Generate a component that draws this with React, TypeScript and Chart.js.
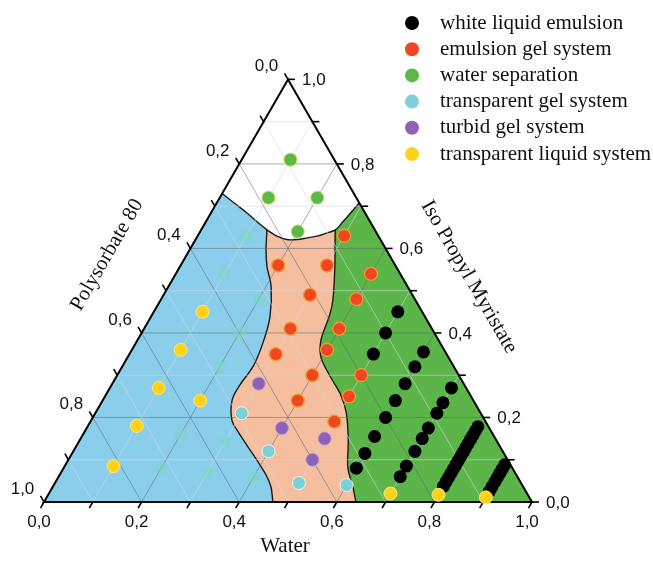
import React, { useEffect, useRef } from "react";
import { Chart, registerables } from "chart.js";

Chart.register(...registerables);

// Compositions are [water, isopropyl myristate]; polysorbate 80 is the remainder.
const seriesLabels = [
  "white liquid emulsion",
  "emulsion gel system",
  "water separation",
  "transparent gel system",
  "turbid gel system",
  "transparent liquid system",
];
const seriesColors = ["#000000", "#EE4723", "#5DB84A", "#7ED0D6", "#8E60B6", "#FFD21A"];

const whiteLiquidEmulsion: number[][] = [
  [0.5, 0.45], [0.5, 0.4], [0.5, 0.35],
  [0.6, 0.355], [0.6, 0.32], [0.6, 0.28], [0.6, 0.24], [0.6, 0.2], [0.6, 0.155], [0.6, 0.115], [0.6, 0.08],
  [0.7, 0.27], [0.7, 0.235], [0.7, 0.21], [0.7, 0.175], [0.7, 0.15], [0.7, 0.12], [0.7, 0.085], [0.7, 0.06],
  [0.8, 0.178], [0.8, 0.168], [0.8, 0.158], [0.8, 0.148], [0.8, 0.138], [0.8, 0.128], [0.8, 0.118], [0.8, 0.108],
  [0.8, 0.098], [0.8, 0.088], [0.8, 0.078], [0.8, 0.068], [0.8, 0.058], [0.8, 0.048], [0.8, 0.037],
  [0.9, 0.088], [0.9, 0.078], [0.9, 0.068], [0.9, 0.058], [0.9, 0.048], [0.9, 0.036], [0.9, 0.025],
];
const emulsionGel: number[][] = [
  [0.3, 0.63], [0.2, 0.56], [0.3, 0.56], [0.4, 0.54], [0.3, 0.49], [0.4, 0.48], [0.3, 0.41], [0.4, 0.41],
  [0.3, 0.35], [0.4, 0.36], [0.4, 0.3], [0.5, 0.3], [0.4, 0.24], [0.5, 0.25], [0.5, 0.19],
];
const waterSeparation: number[][] = [[0.1, 0.81], [0.1, 0.72], [0.2, 0.72], [0.2, 0.64]];
const transparentGel: number[][] = [[0.3, 0.21], [0.4, 0.12], [0.5, 0.045], [0.6, 0.04]];
// transparent gel points lying inside the transparent-liquid field (drawn faded)
const transparentGelFaded: number[][] = [
  [0.1, 0.63], [0.1, 0.54], [0.2, 0.48], [0.2, 0.4], [0.2, 0.32],
  [0.3, 0.14], [0.2, 0.16], [0.2, 0.08], [0.3, 0.07], [0.4, 0.06],
];
const turbidGel: number[][] = [[0.3, 0.28], [0.4, 0.175], [0.5, 0.15], [0.5, 0.1]];
const transparentLiquid: number[][] = [
  [0.1, 0.45], [0.1, 0.36], [0.1, 0.27], [0.2, 0.24], [0.1, 0.18], [0.1, 0.085],
  [0.7, 0.02], [0.8, 0.017], [0.9, 0.011],
];

// Phase boundaries, [water, IPM]
const capBoundary: number[][] = [
  [0, 0.73], [0.04, 0.705], [0.074, 0.684], [0.105, 0.663], [0.135, 0.644], [0.163, 0.629],
  [0.187, 0.621], [0.208, 0.621], [0.227, 0.625], [0.245, 0.629], [0.262, 0.637], [0.275, 0.644],
  [0.281, 0.663], [0.286, 0.682], [0.292, 0.708],
];
const liquidGelBoundary: number[][] = [
  [0.124, 0.67], [0.135, 0.644], [0.157, 0.596], [0.179, 0.556], [0.211, 0.509], [0.244, 0.438],
  [0.259, 0.383], [0.268, 0.324], [0.263, 0.277], [0.265, 0.241], [0.288, 0.194], [0.315, 0.166],
  [0.35, 0.133], [0.391, 0.095], [0.423, 0.064], [0.447, 0.036], [0.469, 0],
];
const gelEmulsionBoundary: number[][] = [
  [0.268, 0.67], [0.275, 0.644], [0.318, 0.556], [0.353, 0.478], [0.365, 0.438], [0.376, 0.383],
  [0.396, 0.343], [0.434, 0.301], [0.479, 0.256], [0.514, 0.211], [0.55, 0.147], [0.581, 0.083],
  [0.615, 0.036], [0.639, 0],
];

const tickValues = [0, 0.1, 0.2, 0.3, 0.4, 0.5, 0.6, 0.7, 0.8, 0.9, 1];
const tickLabels = ["0,0", "", "0,2", "", "0,4", "", "0,6", "", "0,8", "", "1,0"];

const SQ = Math.sqrt(3) / 2;
const toXY = (c: number[]) => ({ x: c[0] + c[1] / 2, y: c[1] * SQ });

const SERIF = "'Liberation Serif', 'Times New Roman', serif";
const SANS = "'Liberation Sans', Arial, sans-serif";

function smoothPath(ctx: CanvasRenderingContext2D, pts: number[][], move: boolean) {
  if (move) ctx.moveTo(pts[0][0], pts[0][1]);
  else ctx.lineTo(pts[0][0], pts[0][1]);
  for (let i = 0; i < pts.length - 1; i++) {
    const p0 = pts[i - 1] || pts[i];
    const p1 = pts[i];
    const p2 = pts[i + 1];
    const p3 = pts[i + 2] || p2;
    ctx.bezierCurveTo(
      p1[0] + (p2[0] - p0[0]) / 6, p1[1] + (p2[1] - p0[1]) / 6,
      p2[0] - (p3[0] - p1[0]) / 6, p2[1] - (p3[1] - p1[1]) / 6,
      p2[0], p2[1]
    );
  }
}

const ternaryPlugin = {
  id: "ternaryFrame",
  beforeDatasetsDraw(chart: any) {
    const { ctx } = chart;
    const xs = chart.scales.x;
    const ys = chart.scales.y;
    const P = (w: number, m: number) => [xs.getPixelForValue(w + m / 2), ys.getPixelForValue(m * SQ)];
    const conv = (arr: number[][]) => arr.map((c) => P(c[0], c[1]));
    const BL = P(0, 0);
    const BR = P(1, 0);
    const TOP = P(0, 1);

    ctx.save();
    // emulsion field: whole triangle
    ctx.beginPath();
    ctx.moveTo(BL[0], BL[1]);
    ctx.lineTo(BR[0], BR[1]);
    ctx.lineTo(TOP[0], TOP[1]);
    ctx.closePath();
    ctx.fillStyle = "#5BB548";
    ctx.fill();

    // gel field
    const ge = conv(gelEmulsionBoundary);
    ctx.beginPath();
    ctx.moveTo(BL[0], BL[1]);
    smoothPath(ctx, ge.slice().reverse(), false);
    ctx.lineTo(TOP[0], TOP[1]);
    ctx.closePath();
    ctx.fillStyle = "#F4BE9F";
    ctx.fill();

    // liquid field
    const lg = conv(liquidGelBoundary);
    ctx.beginPath();
    ctx.moveTo(BL[0], BL[1]);
    smoothPath(ctx, lg.slice().reverse(), false);
    ctx.lineTo(TOP[0], TOP[1]);
    ctx.closePath();
    ctx.fillStyle = "#8BCEEC";
    ctx.fill();

    ctx.strokeStyle = "#1a1a1a";
    ctx.lineWidth = 1.4;
    ctx.beginPath();
    smoothPath(ctx, lg, true);
    ctx.stroke();
    ctx.beginPath();
    smoothPath(ctx, ge, true);
    ctx.stroke();

    // separation cap
    const cap = conv(capBoundary);
    ctx.beginPath();
    smoothPath(ctx, cap, true);
    ctx.lineTo(TOP[0], TOP[1]);
    ctx.closePath();
    ctx.fillStyle = "#ffffff";
    ctx.fill();
    ctx.beginPath();
    smoothPath(ctx, cap, true);
    ctx.stroke();

    // grid
    for (let i = 1; i < tickValues.length - 1; i++) {
      const v = tickValues[i];
      const major = i % 2 === 0;
      ctx.strokeStyle = major ? "rgba(95,105,115,0.55)" : "rgba(205,215,225,0.6)";
      ctx.lineWidth = 1;
      const segs = [
        [P(0, v), P(1 - v, v)],
        [P(v, 0), P(v, 1 - v)],
        [P(1 - v, 0), P(0, 1 - v)],
      ];
      for (const [a, b] of segs) {
        ctx.beginPath();
        ctx.moveTo(a[0], a[1]);
        ctx.lineTo(b[0], b[1]);
        ctx.stroke();
      }
    }

    // frame
    ctx.strokeStyle = "#000";
    ctx.lineWidth = 2;
    ctx.lineJoin = "miter";
    ctx.beginPath();
    ctx.moveTo(BL[0], BL[1]);
    ctx.lineTo(BR[0], BR[1]);
    ctx.lineTo(TOP[0], TOP[1]);
    ctx.closePath();
    ctx.stroke();

    // ticks and labels
    const T = 7;
    ctx.lineWidth = 1.6;
    ctx.fillStyle = "#111";
    ctx.font = "17px " + SANS;
    ctx.textBaseline = "middle";
    tickValues.forEach((v, i) => {
      // water (bottom)
      const b = P(v, 0);
      ctx.beginPath();
      ctx.moveTo(b[0], b[1]);
      ctx.lineTo(b[0] - 0.5 * T, b[1] + SQ * T);
      ctx.stroke();
      // polysorbate (left)
      const l = P(0, 1 - v);
      ctx.beginPath();
      ctx.moveTo(l[0], l[1]);
      ctx.lineTo(l[0] - 0.5 * T, l[1] - SQ * T);
      ctx.stroke();
      // isopropyl myristate (right)
      const r = P(1 - v, v);
      ctx.beginPath();
      ctx.moveTo(r[0], r[1]);
      ctx.lineTo(r[0] + T, r[1]);
      ctx.stroke();
      const lab = tickLabels[i];
      if (lab) {
        ctx.textAlign = "center";
        ctx.fillText(lab, b[0] - 5, b[1] + 20);
        ctx.fillText(lab, l[0] - 21.5, l[1] - 13);
        ctx.textAlign = "left";
        ctx.fillText(lab, r[0] + 14, r[1] + 1);
      }
    });

    // axis titles
    ctx.font = "21px " + SERIF;
    ctx.textAlign = "center";
    ctx.textBaseline = "middle";
    ctx.fillStyle = "#111";
    ctx.fillText("Water", 285, 546);
    ctx.save();
    ctx.translate(107, 255);
    ctx.rotate(-Math.PI / 3);
    ctx.fillText("Polysorbate 80", 0, 0);
    ctx.restore();
    ctx.save();
    ctx.translate(469, 277);
    ctx.rotate(Math.PI / 3);
    ctx.fillText("Iso Propyl Myristate", 0, 0);
    ctx.restore();

    // legend
    ctx.textAlign = "left";
    seriesLabels.forEach((label, i) => {
      const yy = 23 + i * 26.2;
      ctx.beginPath();
      ctx.arc(412, yy, 7, 0, Math.PI * 2);
      ctx.fillStyle = seriesColors[i];
      ctx.fill();
      ctx.fillStyle = "#111";
      ctx.fillText(label, 440, yy);
    });
    ctx.restore();
  },
};

export default function App() {
  const ref = useRef<HTMLCanvasElement>(null);
  useEffect(() => {
    if (!ref.current) return;
    const mk = (label: string, pts: number[][], bg: string, border: string, bw = 1) => ({
      label,
      data: pts.map(toXY),
      backgroundColor: bg,
      borderColor: border,
      borderWidth: bw,
      pointRadius: 6.5,
      showLine: false,
      clip: false as any,
    });
    const chart = new Chart(ref.current, {
      type: "scatter",
      data: {
        datasets: [
          mk(seriesLabels[5], transparentLiquid, "#FFD21A", "#FFE680"),
          mk(seriesLabels[3], transparentGel, "#7ED0D6", "#E8F7F8"),
          mk(seriesLabels[4], turbidGel, "#8E60B6", "#B59CD6"),
          mk(seriesLabels[1], emulsionGel, "#EE4723", "#F79A2A", 1.3),
          mk(seriesLabels[2], waterSeparation, "#5DB84A", "#C9DC5A"),
          mk(seriesLabels[0], whiteLiquidEmulsion, "#000000", "#000000", 0),
          mk(seriesLabels[3], transparentGelFaded, "rgba(125,215,195,0.55)", "rgba(125,215,195,0.2)", 0),
        ],
      },
      options: {
        animation: false,
        responsive: false,
        maintainAspectRatio: false,
        events: [],
        layout: { padding: 0, autoPadding: false },
        plugins: { legend: { display: false }, tooltip: { enabled: false } },
        scales: {
          x: { type: "linear", display: false, min: -44 / 488, max: 609 / 488 },
          y: { type: "linear", display: false, min: -60 / 488, max: 502 / 488 },
        },
      },
      plugins: [ternaryPlugin],
    });
    return () => chart.destroy();
  }, []);
  return (
    <div style={{ position: "absolute", left: 0, top: 0, width: 653, height: 562, background: "#fff" }}>
      <canvas ref={ref} width={653} height={562} style={{ display: "block" }} />
    </div>
  );
}
